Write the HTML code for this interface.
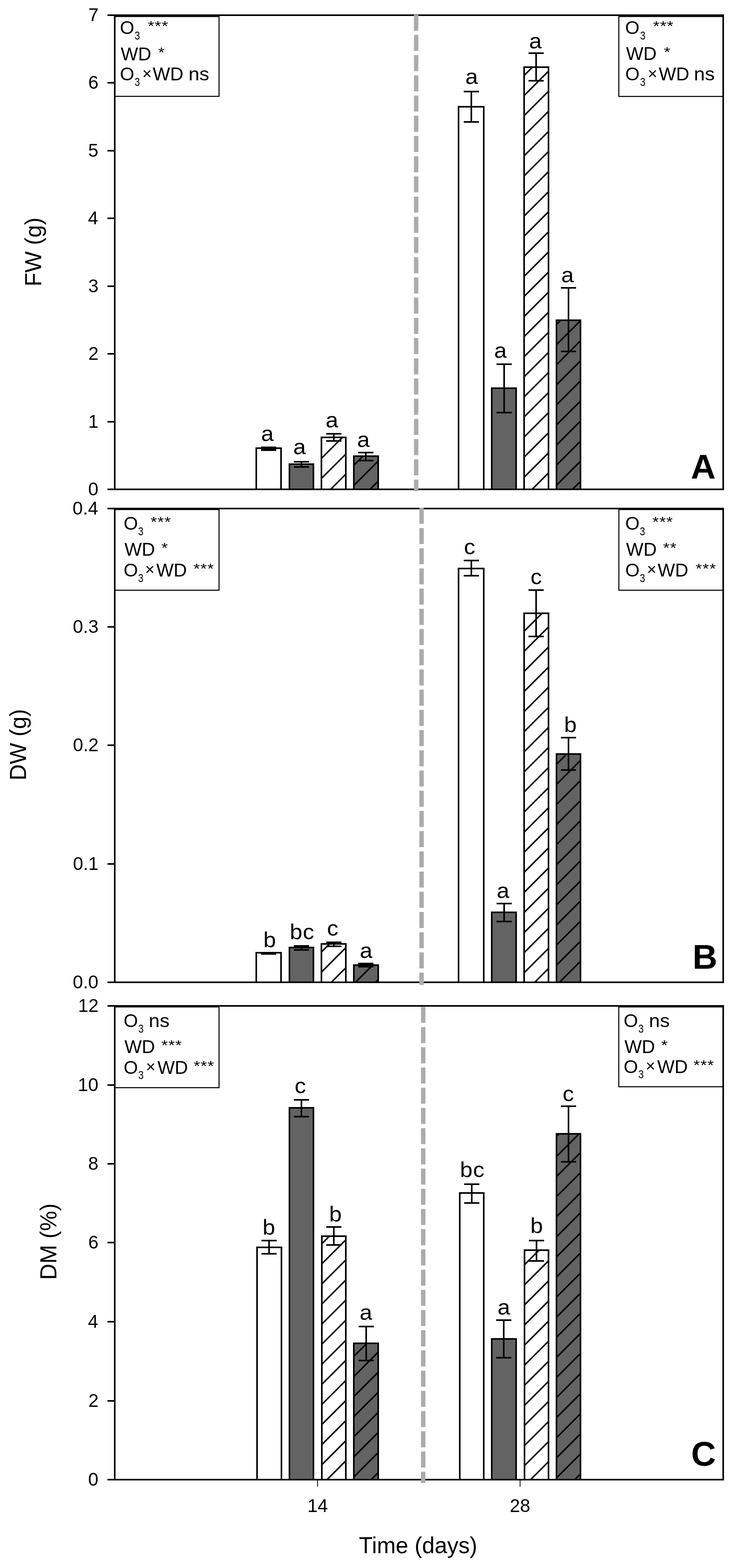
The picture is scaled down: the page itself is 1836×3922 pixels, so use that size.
<!DOCTYPE html>
<html><head><meta charset="utf-8"><title>Figure</title>
<style>html,body{margin:0;padding:0;background:#fff;}svg{display:block;}</style>
</head><body>
<svg width="1836" height="3922" viewBox="0 0 1836 3922" font-family="'Liberation Sans', Arial, Helvetica, sans-serif" fill="#000">
<defs><pattern id="hA2" patternUnits="userSpaceOnUse" x="41" y="0" width="50.25" height="50.25"><path d="M-6,6L56.25,-56.25M-6,56.25L56.25,-6M-6,106.5L56.25,44.25" stroke="#000" stroke-width="3.7" fill="none"/></pattern>
<pattern id="hA3" patternUnits="userSpaceOnUse" x="39" y="0" width="50.25" height="50.25"><path d="M-6,6L56.25,-56.25M-6,56.25L56.25,-6M-6,106.5L56.25,44.25" stroke="#000" stroke-width="3.7" fill="none"/></pattern>
<pattern id="hA6" patternUnits="userSpaceOnUse" x="42.5" y="0" width="50.25" height="50.25"><path d="M-6,6L56.25,-56.25M-6,56.25L56.25,-6M-6,106.5L56.25,44.25" stroke="#000" stroke-width="3.7" fill="none"/></pattern>
<pattern id="hA7" patternUnits="userSpaceOnUse" x="43" y="0" width="50.25" height="50.25"><path d="M-6,6L56.25,-56.25M-6,56.25L56.25,-6M-6,106.5L56.25,44.25" stroke="#000" stroke-width="3.7" fill="none"/></pattern>
<pattern id="hB2" patternUnits="userSpaceOnUse" x="19.5" y="0" width="50.25" height="50.25"><path d="M-6,6L56.25,-56.25M-6,56.25L56.25,-6M-6,106.5L56.25,44.25" stroke="#000" stroke-width="3.7" fill="none"/></pattern>
<pattern id="hB3" patternUnits="userSpaceOnUse" x="29.7" y="0" width="50.25" height="50.25"><path d="M-6,6L56.25,-56.25M-6,56.25L56.25,-6M-6,106.5L56.25,44.25" stroke="#000" stroke-width="3.7" fill="none"/></pattern>
<pattern id="hB6" patternUnits="userSpaceOnUse" x="25.7" y="0" width="50.25" height="50.25"><path d="M-6,6L56.25,-56.25M-6,56.25L56.25,-6M-6,106.5L56.25,44.25" stroke="#000" stroke-width="3.7" fill="none"/></pattern>
<pattern id="hB7" patternUnits="userSpaceOnUse" x="37.5" y="0" width="50.25" height="50.25"><path d="M-6,6L56.25,-56.25M-6,56.25L56.25,-6M-6,106.5L56.25,44.25" stroke="#000" stroke-width="3.7" fill="none"/></pattern>
<pattern id="hC2" patternUnits="userSpaceOnUse" x="46.7" y="0" width="50.25" height="50.25"><path d="M-6,6L56.25,-56.25M-6,56.25L56.25,-6M-6,106.5L56.25,44.25" stroke="#000" stroke-width="3.7" fill="none"/></pattern>
<pattern id="hC3" patternUnits="userSpaceOnUse" x="6.5" y="0" width="50.25" height="50.25"><path d="M-6,6L56.25,-56.25M-6,56.25L56.25,-6M-6,106.5L56.25,44.25" stroke="#000" stroke-width="3.7" fill="none"/></pattern>
<pattern id="hC6" patternUnits="userSpaceOnUse" x="3.2" y="0" width="50.25" height="50.25"><path d="M-6,6L56.25,-56.25M-6,56.25L56.25,-6M-6,106.5L56.25,44.25" stroke="#000" stroke-width="3.7" fill="none"/></pattern>
<pattern id="hC7" patternUnits="userSpaceOnUse" x="13.4" y="0" width="50.25" height="50.25"><path d="M-6,6L56.25,-56.25M-6,56.25L56.25,-6M-6,106.5L56.25,44.25" stroke="#000" stroke-width="3.7" fill="none"/></pattern></defs>
<rect width="1836" height="3922" fill="#fff"/>
<rect x="641" y="1121" width="62" height="103" fill="#ffffff"/>
<path d="M641,1224V1121H703V1224" fill="none" stroke="#000" stroke-width="4" stroke-linejoin="miter" stroke-linecap="square"/>
<rect x="724" y="1161" width="60" height="63" fill="#636363"/>
<path d="M724,1224V1161H784V1224" fill="none" stroke="#000" stroke-width="4" stroke-linejoin="miter" stroke-linecap="square"/>
<rect x="804" y="1094" width="61" height="130" fill="#ffffff"/>
<rect x="804" y="1094" width="61" height="130" fill="url(#hA2)"/>
<path d="M804,1224V1094H865V1224" fill="none" stroke="#000" stroke-width="4" stroke-linejoin="miter" stroke-linecap="square"/>
<rect x="885" y="1141" width="61" height="83" fill="#636363"/>
<rect x="885" y="1141" width="61" height="83" fill="url(#hA3)"/>
<path d="M885,1224V1141H946V1224" fill="none" stroke="#000" stroke-width="4" stroke-linejoin="miter" stroke-linecap="square"/>
<rect x="1147" y="267" width="63" height="957" fill="#ffffff"/>
<path d="M1147,1224V267H1210V1224" fill="none" stroke="#000" stroke-width="4" stroke-linejoin="miter" stroke-linecap="square"/>
<rect x="1230" y="971" width="61" height="253" fill="#636363"/>
<path d="M1230,1224V971H1291V1224" fill="none" stroke="#000" stroke-width="4" stroke-linejoin="miter" stroke-linecap="square"/>
<rect x="1311" y="168" width="61" height="1056" fill="#ffffff"/>
<rect x="1311" y="168" width="61" height="1056" fill="url(#hA6)"/>
<path d="M1311,1224V168H1372V1224" fill="none" stroke="#000" stroke-width="4" stroke-linejoin="miter" stroke-linecap="square"/>
<rect x="1392" y="801" width="60" height="423" fill="#636363"/>
<rect x="1392" y="801" width="60" height="423" fill="url(#hA7)"/>
<path d="M1392,1224V801H1452V1224" fill="none" stroke="#000" stroke-width="4" stroke-linejoin="miter" stroke-linecap="square"/>
<rect x="653" y="1117" width="38" height="11"/>
<path d="M754,1155V1168M735,1155h38M735,1168h38" stroke="#000" stroke-width="4" fill="none"/>
<path d="M835,1085V1103M816,1085h38M816,1103h38" stroke="#000" stroke-width="4" fill="none"/>
<path d="M915,1132V1152M896,1132h38M896,1152h38" stroke="#000" stroke-width="4" fill="none"/>
<path d="M1179,229V305M1160,229h38M1160,305h38" stroke="#000" stroke-width="4" fill="none"/>
<path d="M1261,911V1032M1242,911h38M1242,1032h38" stroke="#000" stroke-width="4" fill="none"/>
<path d="M1341,133V202M1322,133h38M1322,202h38" stroke="#000" stroke-width="4" fill="none"/>
<path d="M1422,720V879M1403,720h38M1403,879h38" stroke="#000" stroke-width="4" fill="none"/>
<text transform="translate(653.08,1102.77) scale(1.05,1)" font-size="54">a</text>
<text transform="translate(733.53,1135.87) scale(1.05,1)" font-size="54">a</text>
<text transform="translate(814.48,1068.97) scale(1.05,1)" font-size="54">a</text>
<text transform="translate(893.18,1118.27) scale(1.05,1)" font-size="54">a</text>
<text transform="translate(1163.98,210.17) scale(1.05,1)" font-size="54">a</text>
<text transform="translate(1235.88,894.77) scale(1.05,1)" font-size="54">a</text>
<text transform="translate(1323.48,121.37) scale(1.05,1)" font-size="54">a</text>
<text transform="translate(1403.83,706.07) scale(1.05,1)" font-size="54">a</text>
<rect x="287.5" y="41.3" width="260.4" height="199.7" fill="#fff" stroke="#000" stroke-width="2.6"/>
<text x="299.92" y="85.2" font-size="46">O</text>
<text transform="translate(336.79,99) scale(0.8,1)" font-size="30">3</text>
<text transform="translate(369.52,77.2) scale(1,0.85)" font-size="42" letter-spacing="1">***</text>
<text x="301.9" y="150.6" font-size="46">WD</text>
<text transform="translate(395.42,142.6) scale(1,0.85)" font-size="42" letter-spacing="1">*</text>
<text x="299.92" y="201.3" font-size="46">O</text>
<text transform="translate(336.79,215.1) scale(0.8,1)" font-size="30">3</text>
<text x="355.76" y="197.9" font-size="41">×</text>
<text x="382.1" y="201.3" font-size="46">WD</text>
<text transform="translate(471.43,201.3) scale(1.07,1)" font-size="46">ns</text>
<rect x="1547.9" y="41.3" width="260.9" height="199.9" fill="#fff" stroke="#000" stroke-width="2.6"/>
<text x="1563.82" y="85.4" font-size="46">O</text>
<text transform="translate(1601.19,99.2) scale(0.8,1)" font-size="30">3</text>
<text transform="translate(1633.42,77.4) scale(1,0.85)" font-size="42" letter-spacing="1">***</text>
<text x="1565.9" y="150.3" font-size="46">WD</text>
<text transform="translate(1660.42,142.3) scale(1,0.85)" font-size="42" letter-spacing="1">*</text>
<text x="1563.92" y="201.4" font-size="46">O</text>
<text transform="translate(1601.19,215.2) scale(0.8,1)" font-size="30">3</text>
<text x="1620.26" y="198" font-size="41">×</text>
<text x="1647.7" y="201.4" font-size="46">WD</text>
<text transform="translate(1735.83,201.4) scale(1.07,1)" font-size="46">ns</text>
<rect x="287" y="38" width="1522" height="1186" fill="none" stroke="#000" stroke-width="4"/>
<path d="M268.8,1224H287" stroke="#000" stroke-width="4"/>
<text x="220.41" y="1238.5" font-size="46">0</text>
<path d="M268.8,1055H287" stroke="#000" stroke-width="4"/>
<text x="220.86" y="1069.5" font-size="46">1</text>
<path d="M268.8,885H287" stroke="#000" stroke-width="4"/>
<text x="220.93" y="899.5" font-size="46">2</text>
<path d="M268.8,716H287" stroke="#000" stroke-width="4"/>
<text x="220.64" y="730.5" font-size="46">3</text>
<path d="M268.8,546H287" stroke="#000" stroke-width="4"/>
<text x="219.96" y="560.5" font-size="46">4</text>
<path d="M268.8,377H287" stroke="#000" stroke-width="4"/>
<text x="220.55" y="391.5" font-size="46">5</text>
<path d="M268.8,207H287" stroke="#000" stroke-width="4"/>
<text x="220.64" y="221.5" font-size="46">6</text>
<path d="M268.8,38H287" stroke="#000" stroke-width="4"/>
<text x="220.93" y="52.5" font-size="46">7</text>
<path d="M1040.9,36.8V1228.4" stroke="#ababab" stroke-width="11" stroke-dasharray="40.1 10.45" fill="none"/>
<text x="1728.06" y="1197.2" font-size="86" font-weight="bold">A</text>
<text transform="translate(102.9,629.7) rotate(-90)" x="-86.86" y="0" font-size="56.5">FW (g)</text>
<rect x="641" y="2383" width="62" height="74" fill="#ffffff"/>
<path d="M641,2457V2383H703V2457" fill="none" stroke="#000" stroke-width="4" stroke-linejoin="miter" stroke-linecap="square"/>
<rect x="724" y="2370" width="60" height="87" fill="#636363"/>
<path d="M724,2457V2370H784V2457" fill="none" stroke="#000" stroke-width="4" stroke-linejoin="miter" stroke-linecap="square"/>
<rect x="804" y="2361" width="61" height="96" fill="#ffffff"/>
<rect x="804" y="2361" width="61" height="96" fill="url(#hB2)"/>
<path d="M804,2457V2361H865V2457" fill="none" stroke="#000" stroke-width="4" stroke-linejoin="miter" stroke-linecap="square"/>
<rect x="885" y="2414" width="61" height="43" fill="#636363"/>
<rect x="885" y="2414" width="61" height="43" fill="url(#hB3)"/>
<path d="M885,2457V2414H946V2457" fill="none" stroke="#000" stroke-width="4" stroke-linejoin="miter" stroke-linecap="square"/>
<rect x="1147" y="1422" width="63" height="1035" fill="#ffffff"/>
<path d="M1147,2457V1422H1210V2457" fill="none" stroke="#000" stroke-width="4" stroke-linejoin="miter" stroke-linecap="square"/>
<rect x="1230" y="2282" width="61" height="175" fill="#636363"/>
<path d="M1230,2457V2282H1291V2457" fill="none" stroke="#000" stroke-width="4" stroke-linejoin="miter" stroke-linecap="square"/>
<rect x="1311" y="1534" width="61" height="923" fill="#ffffff"/>
<rect x="1311" y="1534" width="61" height="923" fill="url(#hB6)"/>
<path d="M1311,2457V1534H1372V2457" fill="none" stroke="#000" stroke-width="4" stroke-linejoin="miter" stroke-linecap="square"/>
<rect x="1392" y="1886" width="60" height="571" fill="#636363"/>
<rect x="1392" y="1886" width="60" height="571" fill="url(#hB7)"/>
<path d="M1392,2457V1886H1452V2457" fill="none" stroke="#000" stroke-width="4" stroke-linejoin="miter" stroke-linecap="square"/>
<rect x="653" y="2383" width="38" height="5"/>
<path d="M754,2366V2376M735,2366h38M735,2376h38" stroke="#000" stroke-width="4" fill="none"/>
<path d="M835,2357V2367M816,2357h38M816,2367h38" stroke="#000" stroke-width="4" fill="none"/>
<path d="M915,2410V2418M896,2410h38M896,2418h38" stroke="#000" stroke-width="4" fill="none"/>
<path d="M1179,1402V1440M1160,1402h38M1160,1440h38" stroke="#000" stroke-width="4" fill="none"/>
<path d="M1261,2260V2305M1242,2260h38M1242,2305h38" stroke="#000" stroke-width="4" fill="none"/>
<path d="M1341,1476V1592M1322,1476h38M1322,1592h38" stroke="#000" stroke-width="4" fill="none"/>
<path d="M1422,1845V1926M1403,1845h38M1403,1926h38" stroke="#000" stroke-width="4" fill="none"/>
<text transform="translate(658.7,2369.27) scale(1.05,1)" font-size="54">b</text>
<text transform="translate(724.85,2349.07) scale(1.05,1)" font-size="54" letter-spacing="1">bc</text>
<text transform="translate(818.02,2340.07) scale(1.05,1)" font-size="54">c</text>
<text transform="translate(899.93,2396.47) scale(1.05,1)" font-size="54">a</text>
<text transform="translate(1160.52,1385.67) scale(1.05,1)" font-size="54">c</text>
<text transform="translate(1242.58,2245.77) scale(1.05,1)" font-size="54">a</text>
<text transform="translate(1326.97,1461.47) scale(1.05,1)" font-size="54">c</text>
<text transform="translate(1411.05,1831.47) scale(1.05,1)" font-size="54">b</text>
<rect x="287.5" y="1274.5" width="260.4" height="201.8" fill="#fff" stroke="#000" stroke-width="2.6"/>
<text x="309.22" y="1325" font-size="46">O</text>
<text transform="translate(345.39,1338.8) scale(0.8,1)" font-size="30">3</text>
<text transform="translate(376.42,1317) scale(1,0.85)" font-size="42" letter-spacing="1">***</text>
<text x="311.2" y="1390" font-size="46">WD</text>
<text transform="translate(403.62,1382) scale(1,0.85)" font-size="42" letter-spacing="1">*</text>
<text x="309.22" y="1441.7" font-size="46">O</text>
<text transform="translate(345.39,1455.5) scale(0.8,1)" font-size="30">3</text>
<text x="362.66" y="1438.3" font-size="41">×</text>
<text x="390.9" y="1441.7" font-size="46">WD</text>
<text transform="translate(483.72,1433.7) scale(1,0.85)" font-size="42" letter-spacing="1">***</text>
<rect x="1548" y="1274.5" width="260.7" height="201.8" fill="#fff" stroke="#000" stroke-width="2.6"/>
<text x="1564.12" y="1325" font-size="46">O</text>
<text transform="translate(1600.19,1338.8) scale(0.8,1)" font-size="30">3</text>
<text transform="translate(1631.82,1317) scale(1,0.85)" font-size="42" letter-spacing="1">***</text>
<text x="1566.1" y="1390" font-size="46">WD</text>
<text transform="translate(1658.42,1382) scale(1,0.85)" font-size="42" letter-spacing="1">**</text>
<text x="1564.12" y="1441.7" font-size="46">O</text>
<text transform="translate(1600.19,1455.5) scale(0.8,1)" font-size="30">3</text>
<text x="1617.96" y="1438.3" font-size="41">×</text>
<text x="1645" y="1441.7" font-size="46">WD</text>
<text transform="translate(1739.72,1433.7) scale(1,0.85)" font-size="42" letter-spacing="1">***</text>
<rect x="287" y="1272" width="1522" height="1185" fill="none" stroke="#000" stroke-width="4"/>
<path d="M268.8,2457H287" stroke="#000" stroke-width="4"/>
<text x="182.05" y="2471.5" font-size="46">0.0</text>
<path d="M268.8,2161H287" stroke="#000" stroke-width="4"/>
<text x="182.5" y="2175.5" font-size="46">0.1</text>
<path d="M268.8,1864H287" stroke="#000" stroke-width="4"/>
<text x="182.57" y="1878.5" font-size="46">0.2</text>
<path d="M268.8,1568H287" stroke="#000" stroke-width="4"/>
<text x="182.28" y="1582.5" font-size="46">0.3</text>
<path d="M268.8,1272H287" stroke="#000" stroke-width="4"/>
<text x="181.6" y="1286.5" font-size="46">0.4</text>
<path d="M1054.5,1270.1V2463.8" stroke="#ababab" stroke-width="11" stroke-dasharray="40.1 10.45" fill="none"/>
<text x="1732.25" y="2423.4" font-size="86" font-weight="bold">B</text>
<text transform="translate(64.7,1862.2) rotate(-90)" x="-90.01" y="0" font-size="56.5">DW (g)</text>
<rect x="643" y="3120" width="61" height="581" fill="#ffffff"/>
<path d="M643,3701V3120H704V3701" fill="none" stroke="#000" stroke-width="4" stroke-linejoin="miter" stroke-linecap="square"/>
<rect x="724" y="2771" width="60" height="930" fill="#636363"/>
<path d="M724,3701V2771H784V3701" fill="none" stroke="#000" stroke-width="4" stroke-linejoin="miter" stroke-linecap="square"/>
<rect x="805" y="3092" width="60" height="609" fill="#ffffff"/>
<rect x="805" y="3092" width="60" height="609" fill="url(#hC2)"/>
<path d="M805,3701V3092H865V3701" fill="none" stroke="#000" stroke-width="4" stroke-linejoin="miter" stroke-linecap="square"/>
<rect x="885" y="3360" width="61" height="341" fill="#636363"/>
<rect x="885" y="3360" width="61" height="341" fill="url(#hC3)"/>
<path d="M885,3701V3360H946V3701" fill="none" stroke="#000" stroke-width="4" stroke-linejoin="miter" stroke-linecap="square"/>
<rect x="1150" y="2984" width="60" height="717" fill="#ffffff"/>
<path d="M1150,3701V2984H1210V3701" fill="none" stroke="#000" stroke-width="4" stroke-linejoin="miter" stroke-linecap="square"/>
<rect x="1230" y="3349" width="61" height="352" fill="#636363"/>
<path d="M1230,3701V3349H1291V3701" fill="none" stroke="#000" stroke-width="4" stroke-linejoin="miter" stroke-linecap="square"/>
<rect x="1312" y="3127" width="60" height="574" fill="#ffffff"/>
<rect x="1312" y="3127" width="60" height="574" fill="url(#hC6)"/>
<path d="M1312,3701V3127H1372V3701" fill="none" stroke="#000" stroke-width="4" stroke-linejoin="miter" stroke-linecap="square"/>
<rect x="1392" y="2836" width="60" height="865" fill="#636363"/>
<rect x="1392" y="2836" width="60" height="865" fill="url(#hC7)"/>
<path d="M1392,3701V2836H1452V3701" fill="none" stroke="#000" stroke-width="4" stroke-linejoin="miter" stroke-linecap="square"/>
<path d="M673,3103V3136M654,3103h38M654,3136h38" stroke="#000" stroke-width="4" fill="none"/>
<path d="M754,2751V2793M735,2751h38M735,2793h38" stroke="#000" stroke-width="4" fill="none"/>
<path d="M835,3069V3114M816,3069h38M816,3114h38" stroke="#000" stroke-width="4" fill="none"/>
<path d="M916,3318V3403M897,3318h38M897,3403h38" stroke="#000" stroke-width="4" fill="none"/>
<path d="M1180,2962V3009M1161,2962h38M1161,3009h38" stroke="#000" stroke-width="4" fill="none"/>
<path d="M1260,3302V3396M1241,3302h38M1241,3396h38" stroke="#000" stroke-width="4" fill="none"/>
<path d="M1342,3103V3154M1323,3103h38M1323,3154h38" stroke="#000" stroke-width="4" fill="none"/>
<path d="M1422,2767V2906M1403,2767h38M1403,2906h38" stroke="#000" stroke-width="4" fill="none"/>
<text transform="translate(656.7,3088.37) scale(1.05,1)" font-size="54">b</text>
<text transform="translate(737.07,2734.07) scale(1.05,1)" font-size="54">c</text>
<text transform="translate(823.25,3055.07) scale(1.05,1)" font-size="54">b</text>
<text transform="translate(899.48,3301.17) scale(1.05,1)" font-size="54">a</text>
<text transform="translate(1150.6,2943.77) scale(1.05,1)" font-size="54" letter-spacing="1">bc</text>
<text transform="translate(1244.48,3287.97) scale(1.05,1)" font-size="54">a</text>
<text transform="translate(1326.45,3083.87) scale(1.05,1)" font-size="54">b</text>
<text transform="translate(1407.37,2754.17) scale(1.05,1)" font-size="54">c</text>
<rect x="287.5" y="2518.6" width="260.4" height="202" fill="#fff" stroke="#000" stroke-width="2.6"/>
<text x="309.22" y="2569" font-size="46">O</text>
<text transform="translate(346.09,2582.8) scale(0.8,1)" font-size="30">3</text>
<text transform="translate(372.03,2569) scale(1.07,1)" font-size="46">ns</text>
<text x="311.2" y="2633.9" font-size="46">WD</text>
<text transform="translate(403.62,2625.9) scale(1,0.85)" font-size="42" letter-spacing="1">***</text>
<text x="309.22" y="2685.5" font-size="46">O</text>
<text transform="translate(346.09,2699.3) scale(0.8,1)" font-size="30">3</text>
<text x="365.06" y="2682.1" font-size="41">×</text>
<text x="393.7" y="2685.5" font-size="46">WD</text>
<text transform="translate(484.22,2677.5) scale(1,0.85)" font-size="42" letter-spacing="1">***</text>
<rect x="1547.8" y="2518.6" width="260.8" height="199.6" fill="#fff" stroke="#000" stroke-width="2.6"/>
<text x="1559.92" y="2569" font-size="46">O</text>
<text transform="translate(1596.69,2582.8) scale(0.8,1)" font-size="30">3</text>
<text transform="translate(1623.33,2569) scale(1.07,1)" font-size="46">ns</text>
<text x="1561.9" y="2633.9" font-size="46">WD</text>
<text transform="translate(1653.82,2625.9) scale(1,0.85)" font-size="42" letter-spacing="1">*</text>
<text x="1559.92" y="2683.6" font-size="46">O</text>
<text transform="translate(1596.69,2697.4) scale(0.8,1)" font-size="30">3</text>
<text x="1614.96" y="2680.2" font-size="41">×</text>
<text x="1643.9" y="2683.6" font-size="46">WD</text>
<text transform="translate(1734.62,2675.6) scale(1,0.85)" font-size="42" letter-spacing="1">***</text>
<rect x="287" y="2516" width="1522" height="1185" fill="none" stroke="#000" stroke-width="4"/>
<path d="M268.8,3701H287" stroke="#000" stroke-width="4"/>
<text x="220.41" y="3715.5" font-size="46">0</text>
<path d="M268.8,3504H287" stroke="#000" stroke-width="4"/>
<text x="220.93" y="3518.5" font-size="46">2</text>
<path d="M268.8,3306H287" stroke="#000" stroke-width="4"/>
<text x="219.96" y="3320.5" font-size="46">4</text>
<path d="M268.8,3108H287" stroke="#000" stroke-width="4"/>
<text x="220.64" y="3122.5" font-size="46">6</text>
<path d="M268.8,2911H287" stroke="#000" stroke-width="4"/>
<text x="220.62" y="2925.5" font-size="46">8</text>
<path d="M268.8,2714H287" stroke="#000" stroke-width="4"/>
<text x="194.83" y="2728.5" font-size="46">10</text>
<path d="M268.8,2516H287" stroke="#000" stroke-width="4"/>
<text x="195.35" y="2530.5" font-size="46">12</text>
<path d="M1058.6,2518.5V3709.5" stroke="#ababab" stroke-width="11" stroke-dasharray="40.1 10.45" fill="none"/>
<text x="1728.87" y="3665.76" font-size="86" font-weight="bold">C</text>
<text transform="translate(140.8,3105.2) rotate(-90)" x="-96.28" y="0" font-size="56.5">DM (%)</text>
<path d="M794.3,3703V3718.6" stroke="#000" stroke-width="2"/>
<text x="768.94" y="3781.6" font-size="46">14</text>
<path d="M1300.9,3703V3718.6" stroke="#000" stroke-width="2"/>
<text x="1275.21" y="3781.6" font-size="46">28</text>
<text x="897.8" y="3884.6" font-size="56.5">Time (days)</text>
</svg>
</body></html>
